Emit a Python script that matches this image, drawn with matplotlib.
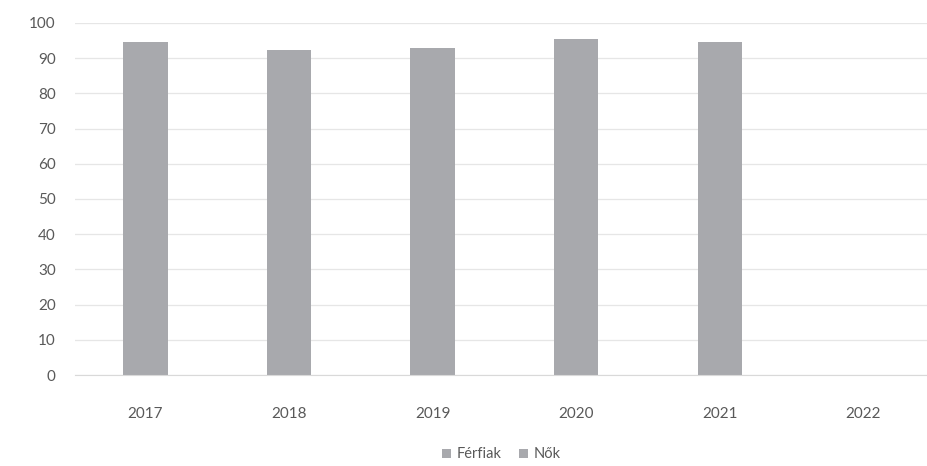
import matplotlib
matplotlib.use('Agg')
import matplotlib.pyplot as plt
import numpy as np

plt.rcParams['font.family'] = ['Lato', 'DejaVu Sans']

years = ['2017', '2018', '2019', '2020', '2021', '2022']
ferfiak = [94.6, 92.4, 92.8, 95.3, 94.7, 0]
nok = [0, 0, 0, 0, 0, 0]

fig, ax = plt.subplots(figsize=(9.28, 4.66), dpi=100)
fig.subplots_adjust(left=0.081, right=1.0, top=0.951, bottom=0.195)

x = np.arange(len(years))
ax.bar(x, ferfiak, width=0.31, color='#a8a9ad', label='Férfiak', zorder=2)
ax.bar(x, nok, width=0.31, bottom=ferfiak, color='#a8a9ad', label='Nők', zorder=2)

ax.set_ylim(0, 100)
ax.set_xlim(-0.49, 5.45)
ax.set_yticks(range(0, 101, 10))
ax.set_xticks(x)
ax.set_xticklabels(years)
ax.grid(axis='y', color='#e6e6e6', linewidth=0.9, zorder=0)
for s in ['top', 'right', 'left']:
    ax.spines[s].set_visible(False)
ax.spines['bottom'].set_color('#d9d9d9')
ax.tick_params(axis='both', length=0, colors='#595959', labelsize=11)
ax.tick_params(axis='x', pad=23)
ax.tick_params(axis='y', pad=14)

ax.legend(loc='center', bbox_to_anchor=(0.5, -0.225), ncol=2, frameon=False,
          fontsize=10.5, handlelength=0.6, handleheight=0.6, columnspacing=1.2,
          handletextpad=0.4, labelcolor='#595959', borderpad=0.2)

fig.savefig('out.png', dpi=100)
